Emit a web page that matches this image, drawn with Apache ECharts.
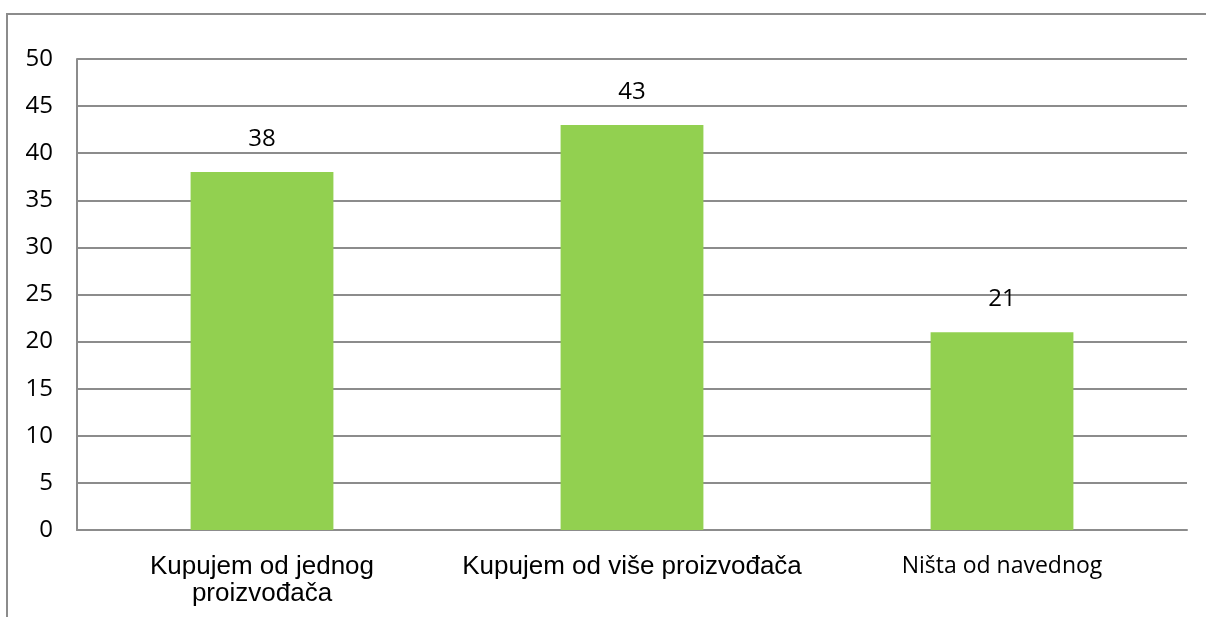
<!DOCTYPE html>
<html>
<head>
<meta charset="utf-8">
<script src="https://cdn.jsdelivr.net/npm/echarts@6/dist/echarts.min.js"></script>
<style>
  html, body { margin: 0; padding: 0; background: #fff; }
  #chart { width: 1206px; height: 617px; }
</style>
</head>
<body>
<div id="chart"></div>
<script>
  var categories = ['Kupujem od jednog\nproizvođača', 'Kupujem od više proizvođača', 'Ništa od navednog']
  var values = [38, 43, 21]
  var yMin = 0
  var yMax = 50
  var yStep = 5

  var chart = echarts.init(document.getElementById('chart'))

  // the last label uses a different (Calibri-like) font in the original
  var arialLabel = { fontFamily: 'Liberation Sans', fontSize: 26, color: '#000', lineHeight: 27 }
  var calibriLabel = { fontFamily: 'Open Sans', fontSize: 23, color: '#000', lineHeight: 27 }

  var option = {
    animation: false,
    graphic: [{
      type: 'rect',
      shape: { x: 7, y: 14, width: 1220, height: 620 },
      style: { fill: 'none', stroke: '#8c8c8c', lineWidth: 2 },
      silent: true
    }],
    grid: { left: 77, top: 59, right: 19, bottom: 87 },
    xAxis: {
      type: 'category',
      data: categories.map(function (c, i) {
        return { value: c, textStyle: i === 2 ? calibriLabel : arialLabel }
      }),
      axisLine: { show: true, lineStyle: { color: '#8c8c8c', width: 2 } },
      axisTick: { show: false },
      axisLabel: { margin: 23, interval: 0 }
    },
    yAxis: {
      type: 'value',
      min: yMin,
      max: yMax,
      interval: yStep,
      axisLine: { show: true, lineStyle: { color: '#8c8c8c', width: 2 } },
      axisTick: { show: false },
      splitLine: { lineStyle: { color: '#8c8c8c', width: 2 } },
      axisLabel: { fontFamily: 'Open Sans', fontSize: 24, color: '#000', margin: 24 }
    },
    series: [{
      type: 'bar',
      data: values,
      barWidth: '38.6%',
      itemStyle: { color: '#92d050' },
      label: {
        show: true,
        position: 'top',
        distance: 21,
        fontFamily: 'Open Sans',
        fontSize: 24,
        color: '#000'
      }
    }]
  }

  chart.setOption(option)
</script>
</body>
</html>
